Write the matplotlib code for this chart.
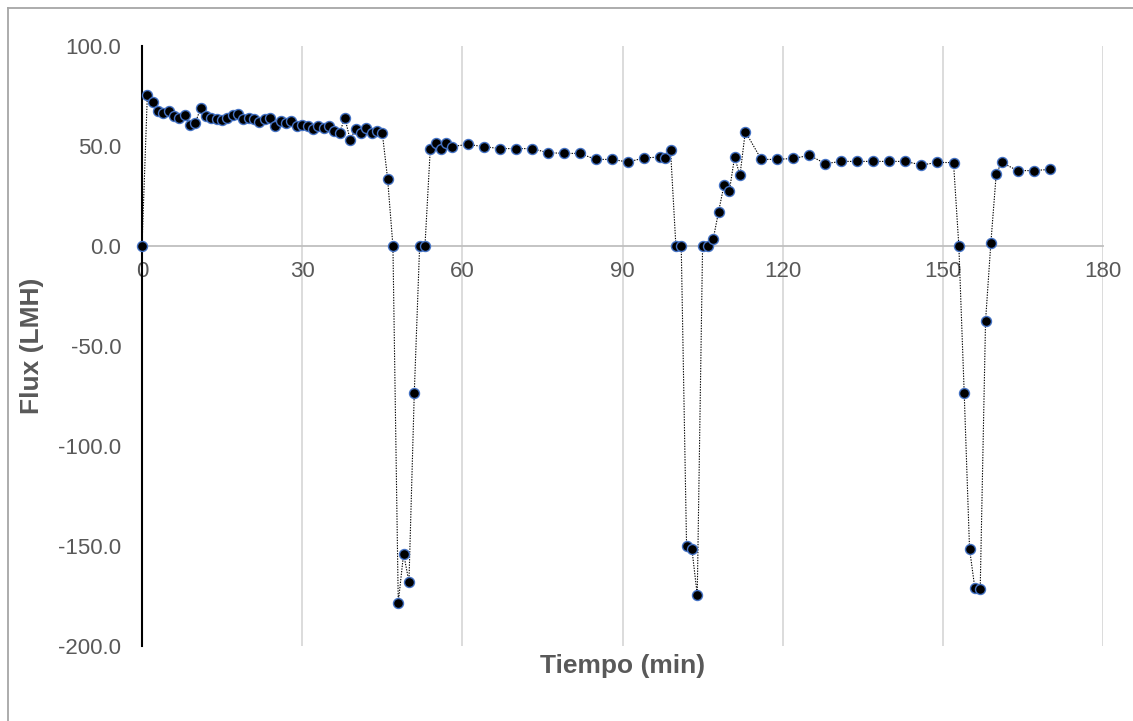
import matplotlib
matplotlib.use("Agg")
import matplotlib.pyplot as plt
from matplotlib.lines import Line2D

tiempo = [0, 1, 2, 3, 4, 5, 6, 7, 8, 9, 10, 11, 12, 13, 14, 15, 16, 17, 18, 19,
          20, 21, 22, 23, 24, 25, 26, 27, 28, 29, 30, 31, 32, 33, 34, 35, 36, 37, 38, 39,
          40, 41, 42, 43, 44, 45, 46, 47, 48, 49, 50, 51, 52, 53, 54, 55, 56, 57, 58,
          61, 64, 67, 70, 73, 76, 79, 82, 85, 88, 91, 94, 97, 98, 99,
          100, 101, 102, 103, 104, 105, 106, 107, 108, 109, 110, 111, 112, 113,
          116, 119, 122, 125, 128, 131, 134, 137, 140, 143, 146, 149, 152,
          153, 154, 155, 156, 157, 158, 159, 160, 161, 164, 167, 170]
flux = [0, 75.3, 72.0, 67.3, 66.5, 67.5, 65.2, 64.0, 65.3, 60.7, 61.7, 69.0, 65.0, 64.0, 63.3, 63.2, 64.0, 65.3, 65.8, 63.3,
        64.0, 63.3, 62.0, 63.3, 64.2, 60.0, 62.3, 61.7, 62.3, 60.0, 60.7, 60.0, 58.7, 60.0, 59.0, 60.0, 57.3, 56.7, 64.0, 53.0,
        58.7, 56.3, 59.0, 56.3, 57.3, 56.7, 33.7, 0, -178.3, -153.8, -168.0, -73.5, 0, 0, 48.7, 51.5, 48.7, 51.5, 49.7,
        50.8, 49.7, 48.7, 48.7, 48.7, 46.7, 46.3, 46.3, 43.3, 43.3, 42.0, 44.0, 44.5, 44.2, 47.8,
        0, 0, -150.2, -151.5, -174.5, 0, 0, 3.6, 17.2, 30.3, 27.3, 44.5, 35.3, 57.2,
        43.3, 43.3, 43.8, 45.3, 41.2, 42.3, 42.3, 42.3, 42.3, 42.3, 40.5, 41.8, 41.7,
        0, -73.3, -151.3, -171.2, -171.5, -37.5, 1.7, 36.0, 41.8, 37.7, 37.7, 38.3]

x_ticks = [0, 30, 60, 90, 120, 150, 180]
y_ticks = [100, 50, 0, -50, -100, -150, -200]

plt.rcParams['font.family'] = ['Liberation Sans', 'DejaVu Sans']
txt = '#595959'

fig = plt.figure(figsize=(11.33, 7.21), dpi=100)
ax = fig.add_axes([142/1133, 1 - 646/721, (1103 - 142)/1133, 600/721])

ax.plot(tiempo, flux, color='black', linestyle=(0, (1.2, 1.2)), linewidth=0.8,
        marker='o', markersize=7.2, markerfacecolor='black',
        markeredgecolor='#4472C4', markeredgewidth=1.0, zorder=5, clip_on=False)

ax.set_xlim(0, 180)
ax.set_ylim(-200, 100)
ax.set_xticks(x_ticks)
ax.set_yticks(y_ticks)
ax.set_yticklabels([f"{v:.1f}" for v in y_ticks])
ax.grid(axis='x', color='#D9D9D9', linewidth=1.3)
ax.set_axisbelow(True)

for s in ['top', 'right']:
    ax.spines[s].set_visible(False)
ax.spines['left'].set_color('black')
ax.spines['left'].set_linewidth(1.5)
ax.spines['left'].set_zorder(3)
ax.spines['bottom'].set_position(('data', 0))
ax.spines['bottom'].set_color('#BFBFBF')
ax.spines['bottom'].set_linewidth(1.3)

ax.tick_params(axis='x', length=0, pad=11, labelsize=16, labelcolor=txt)
ax.tick_params(axis='y', length=0, pad=15, labelsize=16, labelcolor=txt)

fig.text(622.5/1133, 1 - 666/721, 'Tiempo (min)', ha='center', va='center',
         fontsize=19, fontweight='bold', color=txt)
fig.text(32/1133, 1 - 346/721, 'Flux (LMH)', ha='center', va='center',
         rotation=90, fontsize=19, fontweight='bold', color=txt)

# outer chart border
fig.add_artist(Line2D([8/1133, 8/1133], [0, 1 - 8/721], transform=fig.transFigure,
                      color='#A6A6A6', linewidth=1.3))
fig.add_artist(Line2D([8/1133, 1], [1 - 8/721, 1 - 8/721], transform=fig.transFigure,
                      color='#A6A6A6', linewidth=1.3))

fig.savefig('out.png', dpi=100)
